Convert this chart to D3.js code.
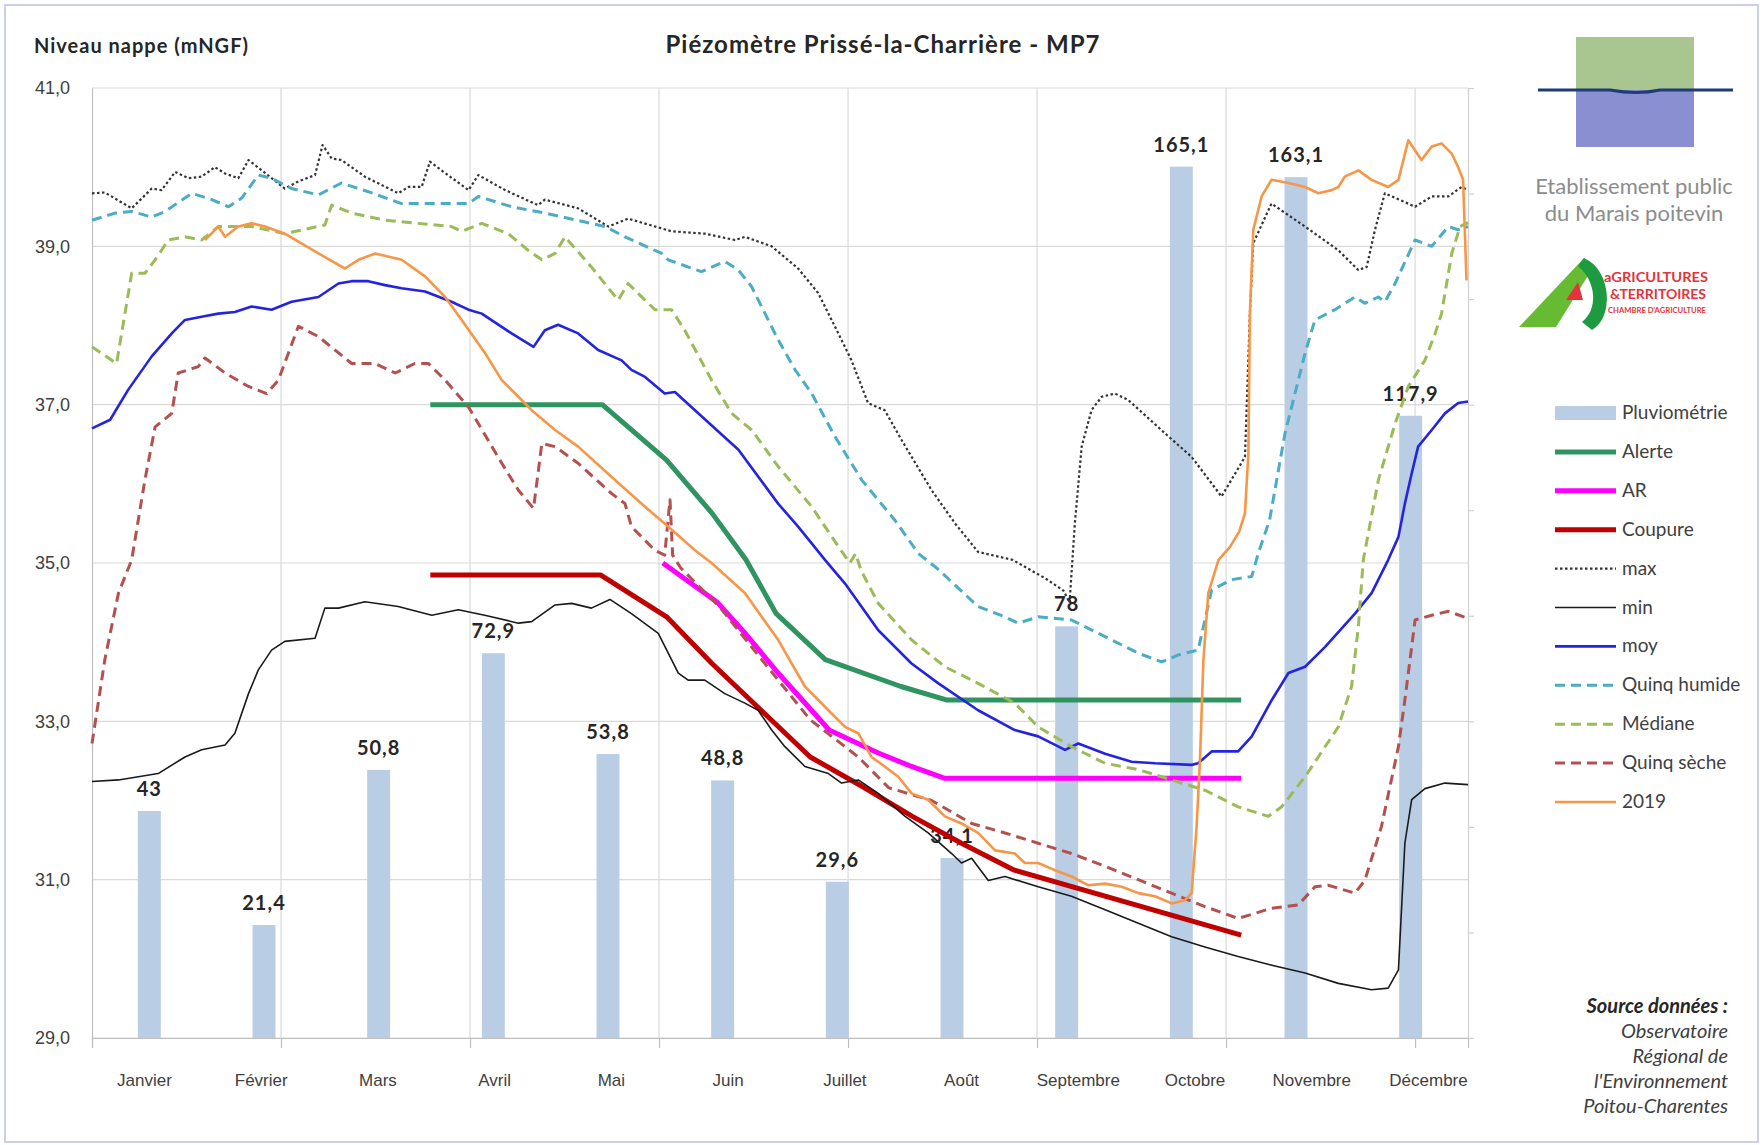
<!DOCTYPE html>
<html><head><meta charset="utf-8">
<script src="https://cdn.jsdelivr.net/npm/d3@7"></script>
<style>
html,body{margin:0;padding:0;background:#fff;}
svg{display:block;font-family:Lato,"Liberation Sans",sans-serif;}
</style></head><body>
<svg id="chart" width="1764" height="1145"></svg>
<script>
// ---------- DATA ----------
const months = ["Janvier","Février","Mars","Avril","Mai","Juin","Juillet","Août","Septembre","Octobre","Novembre","Décembre"];
const pluvio = [43,21.4,50.8,72.9,53.8,48.8,29.6,34.1,78,165.1,163.1,117.9];
const yTicks = [29,31,33,35,37,39,41];
const pluvioTicks = [0,20,40,60,80,100,120,140,160,180];
const dayGrid = [0,50,100,150,200,250,300,350];

// [day of year, level mNGF]
const alerte = [[89.5,37.0],[135,37.0],[152,36.3],[164,35.63],[173,35.04],[181,34.36],[194,33.78],[214,33.44],[226,33.27],[304,33.27]];
const ar = [[151,35.0],[165.5,34.5],[173,34.1],[181.5,33.61],[195,32.89],[208,32.6],[216.8,32.43],[225.6,32.28],[304,32.28]];
const coupure = [[89.5,34.85],[134.5,34.85],[152,34.32],[164,33.73],[177,33.14],[190,32.55],[204,32.17],[217,31.8],[230,31.46],[244,31.12],[304,30.3]];
const maxS = [[0,39.67],[3.4,39.68],[10.5,39.48],[15.8,39.73],[18.4,39.71],[22,39.94],[25.5,39.86],[29,39.88],[32.5,40.0],[35.2,39.92],[38.7,39.86],[41.4,40.09],[44.9,39.96],[51,39.73],[54.6,39.82],[59,39.9],[61,40.28],[63.4,40.11],[66,40.09],[72.2,39.88],[81,39.67],[83.7,39.75],[87.2,39.75],[89.4,40.07],[91.6,39.99],[99.6,39.71],[102.2,39.9],[109.3,39.71],[118,39.52],[119.8,39.59],[128.6,39.48],[136.6,39.25],[141.8,39.35],[153.3,39.19],[162.1,39.16],[170.1,39.08],[172.7,39.12],[179.8,39.0],[186.8,38.72],[192.1,38.41],[196.5,37.99],[200.9,37.56],[205.3,37.02],[209.7,36.93],[214.2,36.55],[222.1,35.92],[228.3,35.5],[234.4,35.14],[243.5,35.04],[252.4,34.8],[257,34.65],[258.6,34.5],[260,35.5],[261.8,36.47],[264.4,36.93],[267.1,37.1],[270.6,37.14],[274.1,37.06],[283.8,36.64],[290.9,36.34],[298.8,35.84],[305,36.34],[306.3,38.15],[307.2,39.04],[312,39.54],[320.9,39.25],[329.7,38.95],[335,38.7],[337.2,38.74],[339.4,39.21],[342,39.67],[350,39.5],[354.4,39.63],[358.8,39.63],[362.3,39.75],[364,39.71]];
const minS = [[0,32.24],[7,32.26],[17.5,32.34],[24.6,32.55],[29,32.64],[35.2,32.7],[37.8,32.85],[41.4,33.35],[44,33.65],[47.5,33.9],[51,34.01],[59,34.05],[61.6,34.43],[65.2,34.43],[72.2,34.51],[81,34.45],[89.9,34.34],[96.9,34.41],[103.9,34.34],[112.8,34.24],[116.3,34.26],[122.5,34.47],[126.9,34.49],[132.1,34.43],[137,34.54],[142.7,34.36],[149.8,34.11],[155.1,33.61],[157.7,33.52],[162.1,33.52],[167.4,33.35],[172.7,33.23],[176.2,33.14],[179.8,32.89],[183.3,32.68],[188.6,32.43],[194.8,32.34],[198.3,32.22],[202.7,32.26],[208,32.09],[215.1,31.8],[221.2,31.59],[227.4,31.33],[230,31.21],[232.7,31.27],[237.1,30.99],[241.5,31.04],[250.3,30.91],[259.1,30.79],[268,30.62],[276.8,30.45],[285.6,30.28],[294.4,30.15],[303.2,30.03],[312.1,29.92],[320.9,29.82],[329.7,29.69],[338.5,29.61],[342.9,29.63],[345.6,29.86],[347.3,31.46],[349.1,32.01],[352.6,32.15],[357.9,32.22],[364,32.2]];
const moy = [[0,36.7],[4.8,36.81],[9.6,37.19],[15.8,37.61],[21.1,37.9],[24.6,38.07],[29,38.11],[33.4,38.15],[37.8,38.17],[42.2,38.24],[47.5,38.2],[52.8,38.3],[59.9,38.36],[65.2,38.53],[68.7,38.56],[73.1,38.56],[77.5,38.51],[81.9,38.47],[88.1,38.43],[95.1,38.3],[99.6,38.2],[103.1,38.15],[111,37.9],[116.8,37.73],[119.8,37.94],[123.3,38.01],[128.6,37.9],[133.9,37.69],[140.1,37.56],[142.7,37.44],[146.3,37.35],[151.5,37.14],[154.2,37.16],[159.5,36.93],[171,36.43],[181.5,35.75],[186.8,35.46],[193.9,35.04],[199.2,34.74],[208,34.15],[216.8,33.73],[223.9,33.48],[234.4,33.14],[244.1,32.89],[250.3,32.81],[257.4,32.64],[260.9,32.72],[268,32.59],[275,32.49],[281.2,32.47],[290.9,32.45],[292.6,32.47],[296.2,32.62],[303.2,32.62],[306.8,32.81],[312.1,33.27],[316.5,33.61],[320.9,33.69],[326.2,33.94],[334.1,34.36],[338.5,34.62],[342.9,35.04],[345.6,35.33],[347.3,35.75],[349.1,36.13],[350.8,36.47],[354.4,36.68],[357.9,36.89],[361.4,37.02],[364,37.04]];
const quinqHumide = [[0,39.33],[6.1,39.42],[10.5,39.44],[15.8,39.37],[19.3,39.44],[26.4,39.67],[31.7,39.59],[36.1,39.5],[39.6,39.61],[44,39.9],[47.5,39.86],[52.8,39.73],[59.9,39.65],[66,39.8],[73.1,39.69],[81.9,39.54],[90.7,39.54],[99.6,39.54],[102.2,39.63],[111,39.5],[119.8,39.42],[135.7,39.25],[141,39.12],[150.7,38.91],[152.4,38.83],[161.2,38.68],[167.4,38.81],[171,38.7],[174.5,38.49],[181.5,37.82],[186,37.44],[190.4,37.14],[196.5,36.6],[203.6,36.05],[212.4,35.54],[218.6,35.12],[223.6,34.93],[234.4,34.45],[241.5,34.32],[245,34.24],[250.3,34.32],[259.1,34.28],[268,34.07],[276.8,33.86],[283,33.75],[287.4,33.84],[292.6,33.9],[294.4,34.28],[296.2,34.66],[301.5,34.79],[306.8,34.83],[308.5,35.12],[311.5,35.54],[315.6,36.64],[320.9,37.65],[323.5,38.07],[328.8,38.2],[334.1,38.36],[336.7,38.28],[340.3,38.36],[342,38.3],[344.7,38.53],[350,39.08],[354.4,39.0],[358.8,39.25],[361.4,39.21],[364,39.25]];
const mediane = [[0,37.73],[6.5,37.52],[10.5,38.66],[14,38.66],[16.7,38.83],[20.2,39.08],[24.6,39.12],[29,39.08],[33.4,39.25],[37,39.25],[42.2,39.25],[51,39.16],[61.6,39.27],[63.4,39.52],[68.7,39.42],[77.5,39.33],[86.3,39.29],[95.1,39.25],[97.8,39.19],[103.1,39.29],[110.1,39.16],[115.4,38.95],[119,38.83],[122.5,38.91],[125.1,39.12],[132.1,38.74],[139.2,38.32],[141.8,38.53],[148.9,38.2],[153.3,38.2],[156.8,37.94],[163.9,37.31],[169.2,36.89],[174.5,36.68],[181.5,36.22],[190.4,35.71],[197.4,35.21],[200.5,35.0],[202,35.12],[203.5,34.9],[208,34.49],[216.8,34.03],[225.6,33.69],[234.4,33.48],[244.1,33.23],[250.3,32.93],[259.1,32.68],[268,32.47],[276.8,32.39],[285.6,32.26],[294.4,32.13],[303.2,31.92],[311.2,31.8],[314.7,31.92],[320.9,32.3],[329.7,32.93],[333.2,33.44],[335,34.2],[336.3,35.04],[340.3,36.05],[344.7,36.76],[348.2,37.23],[352.6,37.56],[355.3,37.9],[357,38.15],[359.7,38.91],[361.9,39.25],[364,39.3]];
const quinqSeche = [[0,32.72],[3.4,33.78],[7,34.62],[10.5,35.04],[14,36.05],[16.7,36.72],[21.1,36.89],[22.8,37.4],[28.1,37.48],[29.9,37.59],[35.2,37.4],[41.4,37.23],[46.2,37.14],[49.3,37.31],[54.6,37.99],[59.9,37.86],[68.7,37.52],[74.9,37.52],[80.2,37.4],[85.4,37.52],[89,37.52],[93.4,37.31],[99.6,36.97],[108.4,36.26],[112.8,35.92],[116.8,35.69],[119,36.51],[122.5,36.47],[128.6,36.26],[137.4,35.88],[141,35.75],[142.7,35.46],[148.9,35.16],[151.5,35.1],[152.9,35.8],[153.6,35.1],[155.7,34.94],[166.1,34.44],[178,33.73],[190,33.02],[202.7,32.55],[210.8,32.16],[222.1,32.0],[232.7,31.71],[241.5,31.59],[250.3,31.46],[259.1,31.33],[268,31.17],[276.8,31.0],[285.6,30.83],[294.4,30.66],[303.2,30.51],[312.1,30.64],[319.1,30.68],[323.5,30.91],[327,30.93],[334.1,30.83],[336.7,30.99],[341.1,31.67],[345.6,32.68],[347.3,33.27],[349.1,33.94],[350,34.28],[354.4,34.34],[358.8,34.39],[364,34.3]];
const y2019 = [[29.9,39.08],[33.4,39.25],[35.2,39.12],[38.7,39.25],[42.2,39.29],[45.8,39.25],[51,39.16],[59.9,38.91],[66.9,38.72],[70.5,38.83],[74.9,38.91],[81.9,38.83],[88.1,38.62],[93.4,38.36],[97.8,38.07],[104,37.65],[108.4,37.31],[112.8,37.1],[116.3,36.93],[122.5,36.68],[128.6,36.47],[137.4,36.09],[146.3,35.71],[152.4,35.46],[159.5,35.16],[163.9,35.0],[172.7,34.62],[181.5,34.03],[188.6,33.44],[194.8,33.14],[199.2,32.93],[202.7,32.85],[206.2,32.55],[209.7,32.43],[213.3,32.3],[216.8,32.09],[221.2,32.01],[225.6,31.8],[230,31.71],[234.4,31.59],[238.9,31.37],[244.1,31.33],[246.8,31.21],[250.3,31.21],[254.7,31.12],[259.1,31.04],[263.5,30.93],[268,30.95],[272.4,30.91],[276.8,30.83],[281.2,30.79],[285.6,30.7],[289.1,30.74],[290.9,30.83],[292.2,31.67],[293.1,32.51],[294,33.77],[295.3,34.62],[298,35.04],[301,35.2],[303.5,35.4],[305,35.63],[305.9,36.39],[306.3,38.15],[307.2,39.21],[309.4,39.63],[312,39.84],[316.5,39.8],[320.9,39.75],[324.4,39.67],[327.9,39.71],[329.7,39.75],[331.4,39.88],[335,39.96],[338.5,39.84],[342.9,39.75],[345.6,39.84],[348.2,40.34],[351.7,40.09],[354.4,40.26],[357,40.3],[359.7,40.17],[361.4,40.0],[362.7,39.84],[363.6,38.57]];

const seriesNames = ["Alerte","AR","Coupure","max","min","moy","Quinq humide","Médiane","Quinq sèche","2019"];
const seriesData = [alerte, ar, coupure, maxS, minS, moy, quinqHumide, mediane, quinqSeche, y2019];
const sourceLines = ["Observatoire","Régional de","l'Environnement","Poitou-Charentes"];

// ---------- STYLES ----------
const styles = {
  "Alerte":      {stroke:"#2f9460", width:5,   dash:null},
  "AR":          {stroke:"#ff00ff", width:5,   dash:null},
  "Coupure":     {stroke:"#c00000", width:5,   dash:null},
  "max":         {stroke:"#333333", width:2.2, dash:"2.5,2.5"},
  "min":         {stroke:"#1a1a1a", width:1.6, dash:null},
  "moy":         {stroke:"#2424e0", width:2.6, dash:null},
  "Quinq humide":{stroke:"#4bacc6", width:3,   dash:"10,6"},
  "Médiane":     {stroke:"#9bbb59", width:3,   dash:"10,6"},
  "Quinq sèche": {stroke:"#b4504e", width:3,   dash:"10,6"},
  "2019":        {stroke:"#f79646", width:2.6, dash:null}
};
const barColor = "#b9cde5";

// ---------- LAYOUT ----------
const L = 92, R = 1468, T = 88, B = 1038;
const svg = d3.select("#chart");

// outer frame
svg.append("rect").attr("x",5).attr("y",5).attr("width",1753).attr("height",1137)
  .attr("fill","#fff").attr("stroke","#c9d1e3").attr("stroke-width",2);

const x = d3.scaleLinear().domain([0,364]).range([L,R]);
const y = d3.scaleLinear().domain([29,41]).range([B,T]);
const y2 = d3.scaleLinear().domain([0,180]).range([B,T]);
const xCat = d3.scaleBand().domain(months).range([L,R]).padding(0);
const xMonthLabel = d3.scalePoint().domain(months).range([144,1428]);

// gridlines
const grid = svg.append("g");
grid.selectAll("line.h").data(yTicks).join("line")
  .attr("x1",L).attr("x2",R).attr("y1",d=>y(d)).attr("y2",d=>y(d))
  .attr("stroke","#d9d9d9").attr("stroke-width",1.2);
grid.selectAll("line.v").data(dayGrid.slice(1)).join("line")
  .attr("x1",d=>x(d)).attr("x2",d=>x(d)).attr("y1",T).attr("y2",B)
  .attr("stroke","#d9d9d9").attr("stroke-width",1.2);

// left axis
const yAxis = svg.append("g").attr("transform",`translate(${L},0)`)
  .call(d3.axisLeft(y).tickValues(yTicks).tickSize(0).tickPadding(22)
    .tickFormat(d=>d3.format(".1f")(d).replace(".",",")));
yAxis.select(".domain").attr("stroke","#bfbfbf").attr("stroke-width",1.2);
yAxis.selectAll("text").attr("font-size",18).attr("fill","#404040");

// right (secondary) axis, no labels
const y2Axis = svg.append("g").attr("transform",`translate(${R},0)`)
  .call(d3.axisRight(y2).tickValues(pluvioTicks).tickSize(6).tickFormat(""));
y2Axis.selectAll("path,line").attr("stroke","#d0d0d0").attr("stroke-width",1.2);

// bottom axis (date ticks)
const xAxis = svg.append("g").attr("transform",`translate(0,${B})`)
  .call(d3.axisBottom(x).tickValues(dayGrid).tickSize(10).tickFormat(""));
xAxis.selectAll("path,line").attr("stroke","#bfbfbf").attr("stroke-width",1.2);

// month labels
const mAxis = svg.append("g").attr("transform",`translate(0,${B})`)
  .call(d3.axisBottom(xMonthLabel).tickSize(0).tickPadding(0));
mAxis.select(".domain").remove();
mAxis.selectAll("text").attr("y",48).attr("dy",0).attr("font-size",17).attr("fill","#404040");

// bars
const barW = xCat.bandwidth()*0.2;
svg.append("g").selectAll("rect").data(pluvio).join("rect")
  .attr("x",(d,i)=>xCat(months[i])+xCat.bandwidth()/2-barW/2)
  .attr("width",barW)
  .attr("y",d=>y2(d)).attr("height",d=>B-y2(d))
  .attr("fill",barColor);

// bar labels
svg.append("g").selectAll("text").data(pluvio).join("text")
  .attr("x",(d,i)=>xCat(months[i])+xCat.bandwidth()/2)
  .attr("y",d=>y2(d)-15)
  .attr("text-anchor","middle").attr("font-size",20).attr("letter-spacing",1)
  .attr("font-weight","bold").attr("fill","#262626")
  .text(d=>String(d).replace(".",","));

// lines
const line = d3.line().x(d=>x(d[0])).y(d=>y(d[1]));
const lg = svg.append("g").attr("fill","none").attr("stroke-linejoin","round");
seriesNames.forEach((n,i)=>{
  const s = styles[n];
  lg.append("path").datum(seriesData[i]).attr("d",line)
    .attr("stroke",s.stroke).attr("stroke-width",s.width)
    .attr("stroke-dasharray",s.dash);
});

// titles
svg.append("text").attr("x",883).attr("y",53).attr("text-anchor","middle")
  .attr("font-size",24).attr("letter-spacing",1).attr("font-weight","bold").attr("fill","#262626")
  .text("Piézomètre Prissé-la-Charrière - MP7");
svg.append("text").attr("x",34).attr("y",53)
  .attr("font-size",20).attr("letter-spacing",1).attr("font-weight","bold").attr("fill","#262626")
  .text("Niveau nappe (mNGF)");

// legend
const legendY0 = 413, legendStep = 38.9, lx0 = 1555, lx1 = 1616;
const lgd = svg.append("g");
const legendNames = ["Pluviométrie"].concat(seriesNames);
legendNames.forEach((n,i)=>{
  const yy = legendY0 + i*legendStep;
  if(i===0){
    lgd.append("rect").attr("x",lx0).attr("y",yy-7).attr("width",lx1-lx0).attr("height",14).attr("fill",barColor);
  } else {
    const s = styles[n];
    lgd.append("line").attr("x1",lx0).attr("x2",lx1).attr("y1",yy).attr("y2",yy)
      .attr("stroke",s.stroke).attr("stroke-width",s.width).attr("stroke-dasharray",s.dash);
  }
  lgd.append("text").attr("x",lx1+6).attr("y",yy+6).attr("font-size",19).attr("fill","#404040").text(n);
});

// source
const src = svg.append("g").attr("text-anchor","end");
src.append("text").attr("x",1728).attr("y",1013).attr("font-size",20).attr("font-weight","bold")
  .attr("font-style","italic").attr("fill","#262626").text("Source données :");
src.selectAll("text.l").data(sourceLines).join("text")
  .attr("x",1728).attr("y",(d,i)=>1038+i*25).attr("font-size",20).attr("font-style","italic")
  .attr("fill","#404040").text(d=>d);

// logo EPMP
const logo = svg.append("g");
logo.append("rect").attr("x",1576).attr("y",37).attr("width",118).attr("height",54).attr("fill","#a9c590");
logo.append("rect").attr("x",1576).attr("y",90).attr("width",118).attr("height",57).attr("fill","#8a8fd2");
logo.append("path").attr("d","M1538,90 L1610,90 Q1637,95 1660,90 L1733,90")
  .attr("fill","none").attr("stroke","#1f3b78").attr("stroke-width",3);
logo.append("text").attr("x",1634).attr("y",194).attr("text-anchor","middle").attr("font-size",22)
  .attr("fill","#8c8c8c").text("Etablissement public");
logo.append("text").attr("x",1634).attr("y",221).attr("text-anchor","middle").attr("font-size",22)
  .attr("fill","#8c8c8c").text("du Marais poitevin");

// logo chambre d'agriculture
const ag = svg.append("g");
ag.append("path").attr("d","M1519,327 L1584,258 L1594,266 L1556,327 Z").attr("fill","#66bb33");
ag.append("path").attr("d","M1584,258 C1612,270 1614,318 1592,330 L1582,322 C1598,310 1597,282 1578,266 Z").attr("fill","#1e9a40");
ag.append("path").attr("d","M1566,300 L1578,282 L1583,300 Z").attr("fill","#e3343b");
ag.append("text").attr("x",1604).attr("y",282).attr("font-size",14).attr("font-weight","bold")
  .attr("fill","#e3343b").attr("textLength",104).attr("lengthAdjust","spacingAndGlyphs").text("aGRICULTURES");
ag.append("text").attr("x",1610).attr("y",299).attr("font-size",13).attr("font-weight","bold")
  .attr("fill","#e3343b").attr("textLength",96).attr("lengthAdjust","spacingAndGlyphs").text("&TERRITOIRES");
ag.append("text").attr("x",1608).attr("y",313).attr("font-size",7).attr("font-weight","bold")
  .attr("fill","#e3343b").attr("textLength",98).attr("lengthAdjust","spacingAndGlyphs").text("CHAMBRE D'AGRICULTURE");
</script>
</body></html>
